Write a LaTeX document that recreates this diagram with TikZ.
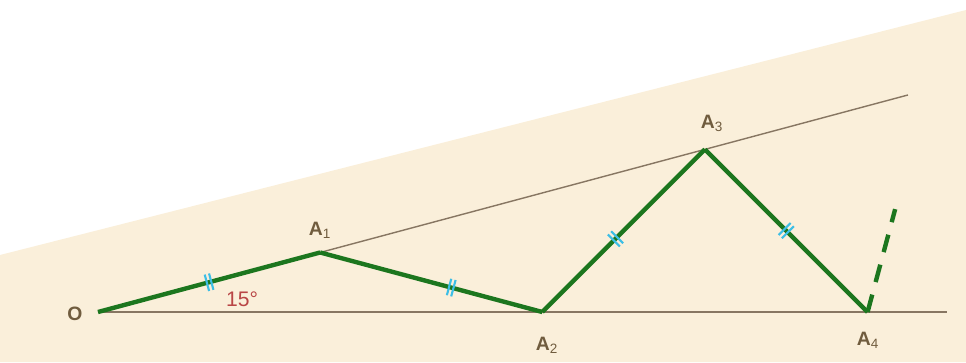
\documentclass[tikz,border=0pt]{standalone}
\usepackage{fontspec}
\setmainfont{Liberation Sans}
\usetikzlibrary{calc, decorations.markings}
\definecolor{paper}{RGB}{250,239,218}
\definecolor{zgreen}{RGB}{28,118,30}
\definecolor{tickblue}{RGB}{60,190,230}
\definecolor{rulebrown}{RGB}{135,118,98}
\definecolor{labbrown}{RGB}{112,92,62}
\definecolor{angred}{RGB}{185,70,70}

\begin{document}
\begin{tikzpicture}[
    ray/.style={rulebrown, line width=0.8pt},
    zig/.style={zgreen, line width=2.5pt, line join=miter},
    pt/.style={font=\fontsize{11}{13}\selectfont\bfseries, text=labbrown, inner sep=1pt},
    ticks/.style={postaction={decorate, decoration={markings,
        mark=at position #1 with {
          \draw[tickblue, line width=1.2pt]
            (-0.045,-0.17) -- (-0.045,0.17) (0.045,-0.17) -- (0.045,0.17);}}}}]

\useasboundingbox (-1.96,-1.0) rectangle (17.36,6.24);

% ════════════════════════════════════════
%  Paper background
% ════════════════════════════════════════
\fill[paper] (-1.96,1.14) -- (17.36,6.04) -- (17.36,-1.0) -- (-1.96,-1.0) -- cycle;

% ════════════════════════════════════════
%  Points (all segments of length 4.6)
% ════════════════════════════════════════
\coordinate (O) at (0,0);
\coordinate (A1) at (15:4.6);
\coordinate (A2) at ({2*4.6*cos(15)},0);
\coordinate (A3) at ($(A2)+(45:4.6)$);
\coordinate (A4) at ($(A2)+({2*4.6*cos(45)},0)$);

% Rays
\coordinate (hend) at (16.98,0);
\coordinate (uend) at (15:16.77);
\draw[ray] (O) -- (hend);
\draw[ray] (O) -- (uend);

% Zigzag
\draw[zig, ticks=0.5] (O) -- (A1);
\draw[zig, ticks=0.59] (A1) -- (A2);
\draw[zig, ticks=0.45] (A2) -- (A3);
\draw[zig, ticks=0.5] (A3) -- (A4);

% Next step (dashed)
\coordinate (A5dir) at ($(A4)+(75:2.13)$);
\draw[zgreen, line width=2.5pt, dash pattern=on 0.36cm off 0.26cm] (A4) -- (A5dir);

% Labels
\node[pt] (lO) at (-0.46,-0.04) {O};
\node[pt] (lA1) at (4.44,1.64) {A\textsubscript{\normalfont 1}};
\node[pt] (lA2) at (8.98,-0.66) {A\textsubscript{\normalfont 2}};
\node[pt] (lA3) at (12.28,3.78) {A\textsubscript{\normalfont 3}};
\node[pt] (lA4) at (15.4,-0.56) {A\textsubscript{\normalfont 4}};
\node[font=\fontsize{12}{14}\selectfont, text=angred] (ang) at (2.88,0.26) {15°};

\end{tikzpicture}
\end{document}
